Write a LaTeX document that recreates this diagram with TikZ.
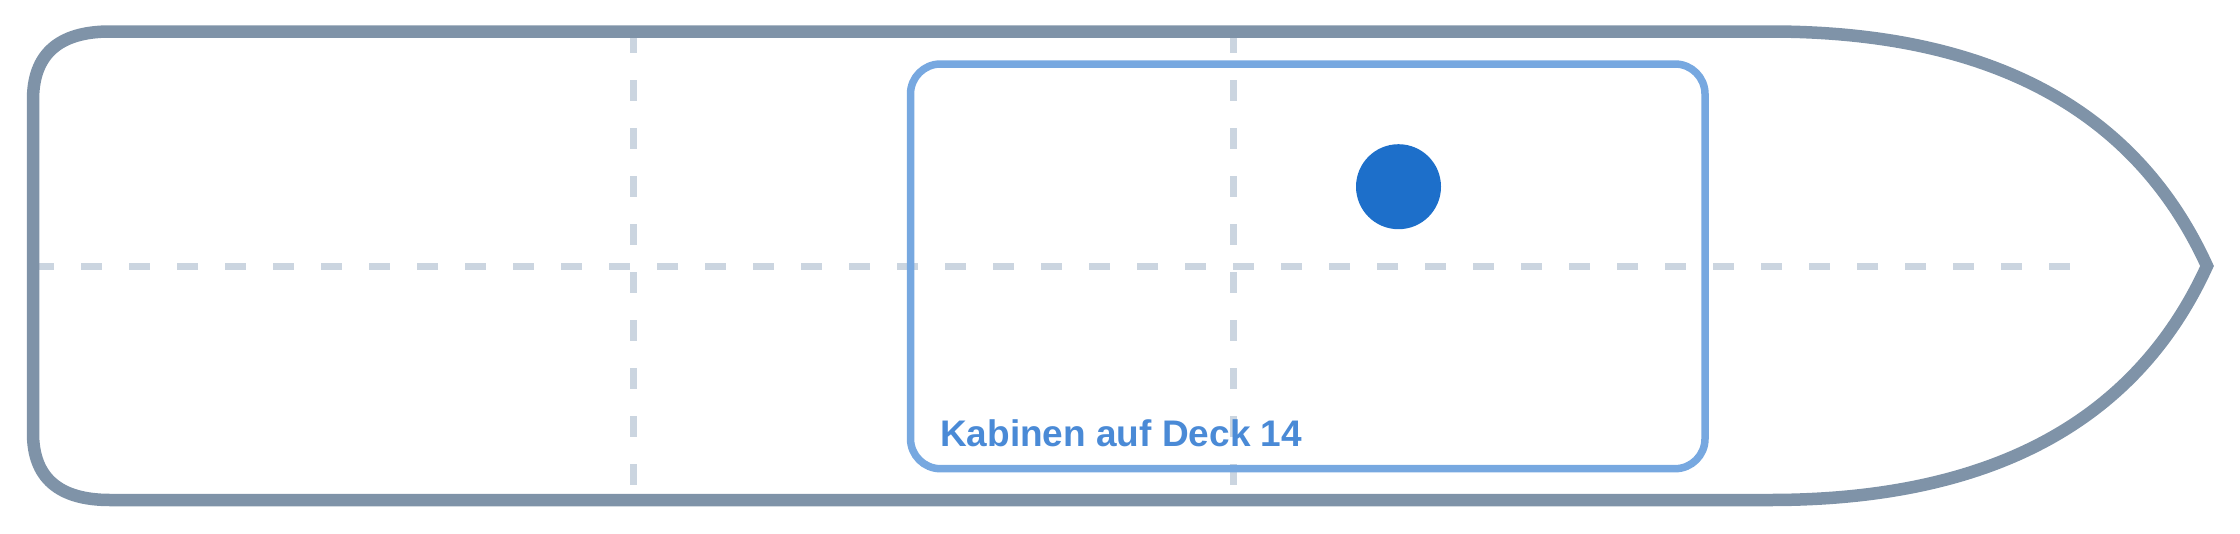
\documentclass[tikz,border=0pt]{standalone}
\usepackage{fontspec}
\setmainfont{Liberation Sans}
\definecolor{hullc}{HTML}{7F93A8}
\definecolor{gridc}{HTML}{CBD5E0}
\definecolor{boxc}{HTML}{77A8E0}
\definecolor{textc}{HTML}{4A8AD6}
\definecolor{dotc}{HTML}{1D6FCA}
\begin{document}
\begin{tikzpicture}[x=1pt,y=-1pt,
  hullline/.style={draw=hullc,line width=12.5pt,line join=miter},
  gridline/.style={draw=gridc,line width=7pt,dash pattern=on 21pt off 27pt},
  cabinbox/.style={draw=boxc,line width=7.5pt,rounded corners=30pt},
  cabinlabel/.style={text=textc,font=\bfseries\fontsize{37pt}{40pt}\selectfont,inner sep=0pt,anchor=base west},
  marker/.style={fill=dotc,draw=none,circle,minimum size=85pt,inner sep=0pt}]
\useasboundingbox (0,0) rectangle (2240,533);
% grid lines
\coordinate (hL) at (33,266);
\coordinate (hR) at (2070,266);
\coordinate (v1T) at (633,32);
\coordinate (v1B) at (633,500);
\coordinate (v2T) at (1233.5,32);
\coordinate (v2B) at (1233.5,500);
\draw[gridline] (hL) -- (hR);
\draw[gridline] (v1T) -- (v1B);
\draw[gridline] (v2T) -- (v2B);
% hull
\draw[hullline] (110,31.5) -- (1770,31.5)
  .. controls (1990,31.5) and (2135.7,109.7) .. (2207,266)
  .. controls (2135.7,422.3) and (1990,500) .. (1770,500)
  -- (110,500)
  .. controls (58.7,500) and (33,477.7) .. (33,433)
  -- (33,100)
  .. controls (33,54.3) and (58.7,31.5) .. cycle;
% cabin box
\draw[cabinbox] (910.5,64) rectangle (1705,468.7);
\node[marker] (dot) at (1398.5,186.7) {};
\node[cabinlabel] (lbl) at (940,446.7) {Kabinen auf Deck 14};
\end{tikzpicture}
\end{document}
